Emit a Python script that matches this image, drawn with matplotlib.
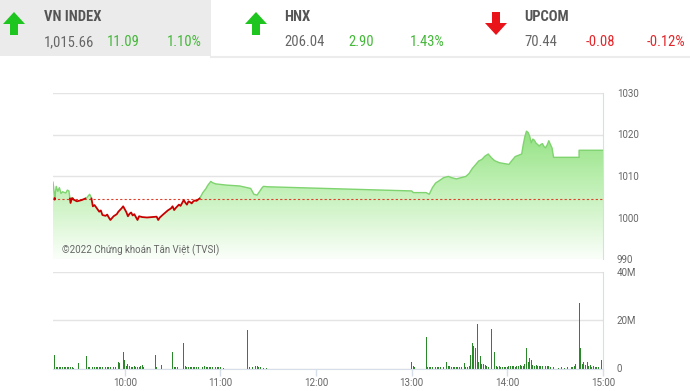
import numpy as np
import matplotlib
matplotlib.use("Agg")
import matplotlib.pyplot as plt
from matplotlib.patches import Polygon, Rectangle
from matplotlib.colors import LinearSegmentedColormap

# VN-Index intraday
price_times = [
    "9:15", "9:16", "9:16", "9:17", "9:18", "9:19", "9:20", "9:21", "9:23", "9:24",
    "9:25", "9:26", "9:27", "9:28", "9:30", "9:33", "9:36", "9:38", "9:39", "9:40",
    "9:41", "9:42", "9:44", "9:45", "9:46", "9:48", "9:49", "9:50", "9:51", "9:53",
    "9:55", "9:56", "9:58", "9:59", "10:00", "10:01", "10:02", "10:03", "10:04", "10:05",
    "10:06", "10:07", "10:08", "10:09", "10:11", "10:14", "10:17", "10:20", "10:21", "10:22",
    "10:24", "10:27", "10:29", "10:30", "10:31", "10:32", "10:34", "10:35", "10:36", "10:37",
    "10:38", "10:39", "10:40", "10:41", "10:42", "10:43", "10:44", "10:45", "10:47", "10:49",
    "10:51", "10:52", "10:54", "10:55", "10:57", "11:04", "11:12", "11:19", "11:21", "11:23",
    "11:25", "11:26", "11:27", "11:30", "13:00", "13:01", "13:09", "13:11", "13:12", "13:13",
    "13:15", "13:17", "13:20", "13:23", "13:25", "13:28", "13:31", "13:34", "13:36", "13:38",
    "13:40", "13:42", "13:44", "13:46", "13:48", "13:50", "13:52", "13:55", "13:58", "14:01",
    "14:03", "14:05", "14:07", "14:09", "14:10", "14:11", "14:12", "14:13", "14:14", "14:15",
    "14:16", "14:17", "14:18", "14:19", "14:20", "14:21", "14:22", "14:23", "14:24", "14:25",
    "14:26", "14:27", "14:28", "14:29", "14:45", "14:45", "15:00",
]
price_values = [
    1008.5, 1005.2, 1004.3, 1007.5, 1006.3, 1007.2, 1005.8, 1006.2, 1005.9, 1006.6,
    1006.4, 1003.5, 1004.8, 1004.3, 1003.9, 1004.2, 1004.7, 1005.6, 1004.8, 1002.7,
    1003.0, 1002.5, 1001.4, 1001.7, 1000.6, 1000.4, 1000.7, 1000.0, 999.4, 1000.3,
    1000.8, 1001.4, 1002.2, 1002.7, 1002.0, 1001.3, 1000.3, 1000.9, 1001.2, 1000.5,
    1000.8, 1000.1, 999.4, 1000.3, 1000.1, 1000.0, 1000.1, 1000.2, 999.4, 1000.0,
    1000.7, 1001.7, 1002.2, 1002.7, 1001.8, 1002.3, 1003.1, 1002.8, 1003.5, 1004.2,
    1003.6, 1003.1, 1003.9, 1003.7, 1003.4, 1003.9, 1004.1, 1004.0, 1004.6, 1006.0,
    1007.0, 1007.7, 1008.7, 1008.4, 1008.1, 1007.8, 1007.6, 1007.0, 1005.6, 1005.4,
    1006.5, 1007.1, 1007.5, 1007.4, 1006.4, 1006.0, 1006.0, 1005.6, 1006.4, 1007.2,
    1008.3, 1008.8, 1009.6, 1009.9, 1009.6, 1009.3, 1009.6, 1009.9, 1010.6, 1011.8,
    1012.7, 1013.6, 1014.0, 1014.8, 1015.3, 1014.4, 1013.7, 1013.2, 1013.0, 1012.8,
    1013.8, 1014.7, 1015.0, 1015.3, 1017.6, 1019.5, 1020.8, 1020.5, 1019.6, 1018.0,
    1018.9, 1018.6, 1017.9, 1017.6, 1017.2, 1017.6, 1017.8, 1017.1, 1016.8, 1017.5,
    1018.5, 1017.6, 1016.8, 1014.5, 1014.5, 1016.2, 1016.2,
]
ref_value = 1004.57

# matched volume per minute, millions of shares
vol_times = [
    "9:16", "9:17", "9:18", "9:19", "9:20", "9:21", "9:22", "9:23", "9:24", "9:25",
    "9:26", "9:27", "9:28", "9:31", "9:36", "9:37", "9:38", "9:40", "9:41", "9:42",
    "9:43", "9:44", "9:45", "9:46", "9:47", "9:48", "9:49", "9:50", "9:51", "9:52",
    "9:53", "9:54", "9:56", "9:57", "9:59", "10:00", "10:01", "10:02", "10:03", "10:04",
    "10:05", "10:06", "10:07", "10:08", "10:09", "10:10", "10:11", "10:12", "10:19", "10:20",
    "10:23", "10:30", "10:31", "10:32", "10:33", "10:37", "10:38", "10:39", "10:40", "10:41",
    "10:42", "10:43", "10:44", "10:45", "10:46", "10:49", "10:50", "10:51", "10:52", "10:53",
    "10:54", "10:55", "10:56", "10:57", "10:58", "10:59", "11:00", "11:01", "11:02", "11:17",
    "11:18", "11:20", "11:22", "11:23", "11:24", "11:25", "11:27", "11:29",
    "13:00", "13:01", "13:02", "13:09", "13:10", "13:11", "13:12", "13:13", "13:14", "13:15",
    "13:16", "13:17", "13:18", "13:19", "13:20", "13:22", "13:23", "13:24", "13:25", "13:26",
    "13:27", "13:28", "13:29", "13:30", "13:31", "13:33", "13:34", "13:35", "13:36", "13:37",
    "13:38", "13:39", "13:40", "13:41", "13:42", "13:43", "13:44", "13:45", "13:46", "13:47",
    "13:48", "13:50", "13:51", "13:52", "13:53", "13:54", "13:55", "13:56", "13:57", "13:58",
    "13:59", "14:00", "14:01", "14:02", "14:03", "14:04", "14:05", "14:06", "14:07", "14:08",
    "14:09", "14:10", "14:11", "14:12", "14:13", "14:14", "14:15", "14:16", "14:17", "14:18",
    "14:19", "14:20", "14:21", "14:22", "14:23", "14:24", "14:25", "14:26", "14:27", "14:28",
    "14:29", "14:32", "14:34", "14:36", "14:38", "14:40", "14:41", "14:42", "14:43", "14:45",
    "14:46", "14:47", "14:48", "14:49", "14:50", "14:51", "14:52", "14:53", "14:54", "14:55",
    "14:56", "14:57", "14:59",
]
vol_values = [
    5.7, 0.8, 0.6, 0.7, 0.5, 0.6, 0.5, 0.6, 0.5, 0.7,
    0.6, 0.5, 0.4, 2.1, 5.2, 0.8, 0.5, 0.5, 0.6, 0.5,
    0.6, 0.5, 0.6, 0.5, 0.6, 0.5, 0.7, 0.6, 0.6, 0.8,
    0.6, 0.7, 2.8, 2.1, 6.9, 3.5, 1.0, 1.7, 0.9, 0.8,
    0.7, 0.9, 0.8, 0.7, 0.8, 0.9, 1.4, 0.6, 5.7, 0.6,
    1.4, 6.9, 0.8, 0.6, 0.6, 10.4, 0.9, 0.8, 0.7, 0.6,
    0.5, 0.6, 0.5, 0.6, 0.5, 0.8, 1.0, 0.6, 0.6, 0.7,
    0.6, 0.5, 0.6, 0.5, 0.6, 0.5, 0.6, 0.5, 0.4, 15.9,
    0.6, 0.5, 0.9, 1.0, 0.8, 0.5, 0.4, 0.4,
    2.8, 1.0, 0.8, 13.0, 0.8, 0.6, 0.5, 0.6, 0.7, 0.6,
    0.6, 0.7, 0.6, 0.7, 0.8, 2.8, 1.2, 0.9, 0.8, 0.7,
    0.8, 0.6, 0.7, 0.6, 0.8, 2.1, 0.6, 0.8, 0.9, 5.7,
    10.4, 9.5, 8.5, 18.4, 2.5, 5.0, 1.8, 1.8, 1.6, 1.2,
    0.8, 16.3, 1.0, 7.0, 1.0, 0.8, 0.9, 0.7, 0.8, 0.6,
    0.7, 0.8, 0.9, 1.0, 0.9, 1.1, 0.8, 0.9, 1.0, 1.5,
    1.2, 1.0, 1.8, 8.5, 2.5, 4.5, 3.5, 1.5, 1.2, 1.3,
    1.0, 1.1, 0.9, 1.0, 1.1, 0.9, 1.0, 1.2, 0.8, 1.0,
    0.6, 0.4, 0.5, 0.4, 0.5, 0.6, 0.5, 1.2, 2.0, 27.2,
    8.5, 2.0, 2.8, 1.5, 2.5, 1.2, 1.5, 0.8, 1.0, 0.6,
    0.8, 0.5, 3.5,
]

time_ticks = ["10:00", "11:00", "12:00", "13:00", "14:00", "15:00"]
price_ticks = [990, 1000, 1010, 1020, 1030]
vol_ticks = [0, 20, 40]
vol_tick_labels = ["0", "20M", "40M"]

# header boxes: name, last, change, pct, up?
indices = [
    ("VN INDEX", "1,015.66", "11.09", "1.10%", True),
    ("HNX", "206.04", "2.90", "1.43%", True),
    ("UPCOM", "70.44", "-0.08", "-0.12%", False),
]


def to_hour(s):
    h, m = s.split(":")
    return int(h) + int(m) / 60


W, H = 690, 391
fig = plt.figure(figsize=(W / 100, H / 100), dpi=100)
narrow = ["Liberation Sans Narrow", "Roboto Condensed", "Roboto", "DejaVu Sans"]
GREY = "#666666"
UP = "#45b83a"
DOWN = "#e3262a"

# ---- header
fig.patches.append(Rectangle((0, 1 - 56 / H), 211 / W, 56 / H, transform=fig.transFigure,
                             facecolor="#ebebeb", edgecolor="none", zorder=0))
fig.lines.append(plt.Line2D([211 / W, 1], [1 - 57 / H, 1 - 57 / H], transform=fig.transFigure,
                            color="#ececec", lw=1.5))


def arrow(cx, top, bottom, up, color):
    hw, sw, hh = 11, 4, 12
    if up:
        pts = [(cx, top), (cx + hw, top + hh), (cx + sw, top + hh), (cx + sw, bottom),
               (cx - sw, bottom), (cx - sw, top + hh), (cx - hw, top + hh)]
    else:
        pts = [(cx, bottom), (cx + hw, bottom - hh), (cx + sw, bottom - hh), (cx + sw, top),
               (cx - sw, top), (cx - sw, bottom - hh), (cx - hw, bottom - hh)]
    pts = [(x / W, 1 - y / H) for x, y in pts]
    fig.patches.append(Polygon(pts, closed=True, transform=fig.transFigure,
                               facecolor=color, edgecolor="none"))


col_x = [(14, 44, 107, 167), (256, 284, 348, 410), (496, 524, 586, 647)]
for (name, last, chg, pct, up), (ax_, x0, x1, x2) in zip(indices, col_x):
    arrow(ax_, 12, 35, up, "#1ec51e" if up else "#e8141a")
    c = UP if up else DOWN
    fig.text(x0 / W, 1 - 17 / H, name, fontsize=10.5, weight="bold", color="#555555",
             va="center", family=narrow)
    fig.text(x0 / W, 1 - 42 / H, last, fontsize=10.5, color=GREY, va="center", family=narrow)
    fig.text(x1 / W, 1 - 42 / H, chg, fontsize=10.5, color=c, va="center", family=narrow)
    fig.text(x2 / W, 1 - 42 / H, pct, fontsize=10.5, color=c, va="center", family=narrow)

# ---- price panel
ax = fig.add_axes([53 / W, 1 - 259 / H, 550 / W, 166 / H])
px = np.array([to_hour(t) for t in price_times])
py = np.array(price_values)

verts = [(px[0], 990)] + list(zip(px, py)) + [(px[-1], 990)]
poly = Polygon(verts, closed=True, facecolor="none", edgecolor="none")
ax.add_patch(poly)
cmap = LinearSegmentedColormap.from_list("g", [(0, "#fbfffa"), (0.25, "#d9f6d2"), (0.5, "#b8eeac"),
                                               (0.75, "#96e286"), (1, "#86dc74")])
grad = np.linspace(0, 1, 256).reshape(-1, 1)
im = ax.imshow(grad, extent=[9.25, 15, 990, 1030], origin="lower", cmap=cmap, aspect="auto", zorder=1)
im.set_clip_path(poly)

# split the line at the reference level
lx, ly = [px[0]], [py[0]]
for i in range(len(px) - 1):
    a, b = py[i] - ref_value, py[i + 1] - ref_value
    if a * b < 0:
        xc = px[i] + (px[i + 1] - px[i]) * a / (a - b)
        lx.append(xc)
        ly.append(ref_value)
    lx.append(px[i + 1])
    ly.append(py[i + 1])
lx, ly = np.array(lx), np.array(ly)
ax.plot(lx, np.where(ly >= ref_value, ly, np.nan), color="#7fd46f", lw=1, zorder=3)
ax.plot(lx, np.where(ly <= ref_value, ly, np.nan), color="#c80000", lw=1.3, zorder=4)
ax.axhline(ref_value, color="#e0402a", lw=0.8, ls=(0, (2, 2)), zorder=3.5)

ax.set_xlim(9.25, 15)
ax.set_ylim(990, 1030)
ax.set_xticks([])
ax.set_yticks(price_ticks)
ax.yaxis.tick_right()
ax.tick_params(axis="y", length=0, pad=10, labelsize=7, labelcolor=GREY)
ax.grid(axis="y", color="#e4e4e4", lw=1, zorder=0)
ax.set_axisbelow(True)
for s in ["top", "left", "bottom"]:
    ax.spines[s].set_visible(False)
ax.spines["right"].set_color("#d6dee9")
for lab in ax.get_yticklabels():
    lab.set_family("Roboto")

fig.text(62 / W, 1 - 250 / H, "©2022 Chứng khoán Tân Việt (TVSI)", fontsize=7, color=GREY,
         va="center", family="Roboto")

# ---- volume panel
axv = fig.add_axes([53 / W, 1 - 368.5 / H, 550 / W, 96.5 / H])
vx = [to_hour(t) for t in vol_times]
axv.bar(vx, vol_values, width=0.01, color="#2a872a", lw=0, zorder=2)
axv.set_xlim(9.25, 15)
axv.set_ylim(0, 40)
axv.set_yticks(vol_ticks)
axv.set_yticklabels(vol_tick_labels)
axv.yaxis.tick_right()
axv.tick_params(axis="y", length=0, pad=10, labelsize=7, labelcolor=GREY)
axv.set_xticks([to_hour(t) for t in time_ticks])
axv.set_xticklabels(time_ticks)
axv.tick_params(axis="x", length=5, width=1, color="#d6dee9", pad=2, labelsize=7, labelcolor=GREY)
axv.grid(axis="y", color="#e4e4e4", lw=1, zorder=0)
axv.set_axisbelow(True)
for s in ["top", "left"]:
    axv.spines[s].set_visible(False)
axv.spines["right"].set_color("#d6dee9")
axv.spines["bottom"].set_color("#d6dee9")
for lab in axv.get_yticklabels() + axv.get_xticklabels():
    lab.set_family("Roboto")

fig.savefig("out.png", dpi=100)
